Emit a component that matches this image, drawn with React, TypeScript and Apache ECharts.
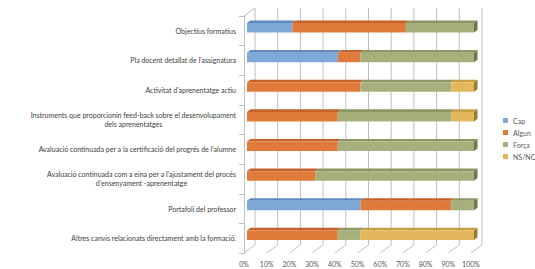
import React, { useEffect, useRef } from "react";
import * as echarts from "echarts";

const categories = [
  "Objectius formatius",
  "Pla docent detallat de l’assignatura",
  "Activitat d’aprenentatge actiu",
  "Instruments que proporcionin feed-back sobre el desenvolupament\ndels aprenentatges",
  "Avaluació continuada per a la certificació del progrés de l’alumne",
  "Avaluació continuada com a eina per a l’ajustament del procés\nd’ensenyament -aprenentatge",
  "Portafoli del professor",
  "Altres canvis relacionats directament amb la formació.",
];
const seriesNames = ["Cap", "Algun", "Força", "NS/NC"];
const cap = [20, 40, 0, 0, 0, 0, 50, 0];
const algun = [50, 10, 50, 40, 40, 30, 40, 40];
const forca = [30, 50, 40, 50, 60, 70, 10, 10];
const nsnc = [0, 0, 10, 10, 0, 0, 0, 50];
const xTicks = [0, 10, 20, 30, 40, 50, 60, 70, 80, 90, 100];

const frontColors = ["#7EA8D8", "#E07A3A", "#A7B07C", "#E3B85C"];
const topColors = ["#5F8ABF", "#C4622A", "#8C9764", "#C89E45"];
const sideColors = ["#4D73A3", "#A04E20", "#6E7848", "#9A7A30"];

const BACK_DX = 11;
const BACK_DY = -8;

export default function App() {
  const ref = useRef<HTMLDivElement>(null);
  useEffect(() => {
    if (!ref.current) return;
    const chart = echarts.init(ref.current, null, { renderer: "svg" });
    const all = [cap, algun, forca, nsnc];
    const segs: number[][][] = all.map(() => []);
    categories.forEach((_, ci) => {
      let acc = 0;
      let lastIdx = -1;
      all.forEach((arr, si) => {
        if (arr[ci] > 0) lastIdx = si;
      });
      all.forEach((arr, si) => {
        const v = arr[ci];
        if (v > 0) {
          segs[si].push([ci, acc, acc + v, si === lastIdx ? 1 : 0]);
        }
        acc += v;
      });
    });

    const barSeries = seriesNames.map((name, si) => ({
      name,
      type: "custom",
      z: 5,
      itemStyle: { color: frontColors[si] },
      encode: { x: [1, 2], y: 0 },
      data: segs[si],
      renderItem: (params: any, api: any) => {
        const ci = api.value(0);
        const s = api.value(1);
        const e = api.value(2);
        const last = api.value(3);
        const p0 = api.coord([s, ci]);
        const p1 = api.coord([e, ci]);
        const band = api.size([0, 1])[1];
        const h = band * 0.32;
        const dx = 3;
        const dy = -3;
        const dX = 3.5;
        const dY = -2.6;
        const x0 = p0[0] + dx;
        const x1 = p1[0] + dx;
        const yc = p0[1] + dy;
        const top = yc - h / 2;
        const bottom = yc + h / 2;
        const children: any[] = [
          {
            type: "polygon",
            shape: {
              points: [
                [x0, top],
                [x1, top],
                [x1 + dX, top + dY],
                [x0 + dX, top + dY],
              ],
            },
            style: { fill: topColors[si] },
          },
          {
            type: "rect",
            shape: { x: x0, y: top, width: x1 - x0, height: h },
            style: { fill: frontColors[si] },
          },
        ];
        if (last) {
          children.push({
            type: "polygon",
            shape: {
              points: [
                [x1, top],
                [x1 + dX, top + dY],
                [x1 + dX, bottom + dY],
                [x1, bottom],
              ],
            },
            style: { fill: sideColors[si] },
          });
        }
        return { type: "group", children };
      },
    }));

    const frameSeries = {
      name: "frame",
      type: "custom",
      silent: true,
      z: 1,
      encode: { x: 0 },
      data: xTicks.map((t) => [t]),
      renderItem: (params: any, api: any) => {
        const v = api.value(0);
        const cs = params.coordSys;
        const top = cs.y;
        const bottom = cs.y + cs.height;
        const p = api.coord([v, 0]);
        const cx = p[0];
        const lineStyle = { stroke: "#BFBFBF", lineWidth: 1 };
        const children: any[] = [
          {
            type: "line",
            shape: {
              x1: cx + BACK_DX,
              y1: top + BACK_DY,
              x2: cx + BACK_DX,
              y2: bottom + BACK_DY,
            },
            style: lineStyle,
          },
          {
            type: "line",
            shape: { x1: cx, y1: bottom, x2: cx + BACK_DX, y2: bottom + BACK_DY },
            style: lineStyle,
          },
        ];
        if (v === 0) {
          children.push({
            type: "line",
            shape: { x1: cx, y1: top, x2: cx + BACK_DX, y2: top + BACK_DY },
            style: lineStyle,
          });
        }
        return { type: "group", children };
      },
    };

    chart.setOption({
      animation: false,
      backgroundColor: "#ffffff",
      textStyle: { fontFamily: "Lato" },
      legend: {
        data: seriesNames,
        orient: "vertical",
        left: 503,
        top: 117,
        padding: 0,
        itemWidth: 5,
        itemHeight: 5,
        itemGap: 5,
        icon: "rect",
        textStyle: { fontSize: 7, color: "#595959", fontFamily: "Lato" },
      },
      grid: { left: 244, width: 227, top: 16, height: 237 },
      xAxis: {
        type: "value",
        min: 0,
        max: 100,
        interval: 10,
        axisLine: { show: false },
        axisTick: { show: false },
        splitLine: { show: false },
        axisLabel: {
          formatter: "{value}%",
          fontSize: 7,
          color: "#595959",
          fontFamily: "Lato",
          margin: 7,
        },
      },
      yAxis: {
        type: "category",
        inverse: true,
        data: categories,
        axisLine: { show: true, lineStyle: { color: "#BFBFBF" } },
        axisTick: { show: true, length: 5, lineStyle: { color: "#BFBFBF" } },
        axisLabel: {
          margin: 8,
          fontSize: 7,
          color: "#404040",
          fontFamily: "Lato",
          formatter: (v: string) =>
            v
              .split("\n")
              .map((l) => `{c|${l}}`)
              .join("\n"),
          rich: {
            c: {
              align: "center",
              fontSize: 7,
              lineHeight: 9,
              color: "#404040",
              fontFamily: "Lato",
            },
          },
        },
      },
      series: [frameSeries, ...barSeries],
    });
    return () => chart.dispose();
  }, []);
  return (
    <div
      ref={ref}
      style={{ position: "fixed", left: 0, top: 0, width: 535, height: 269 }}
    />
  );
}
